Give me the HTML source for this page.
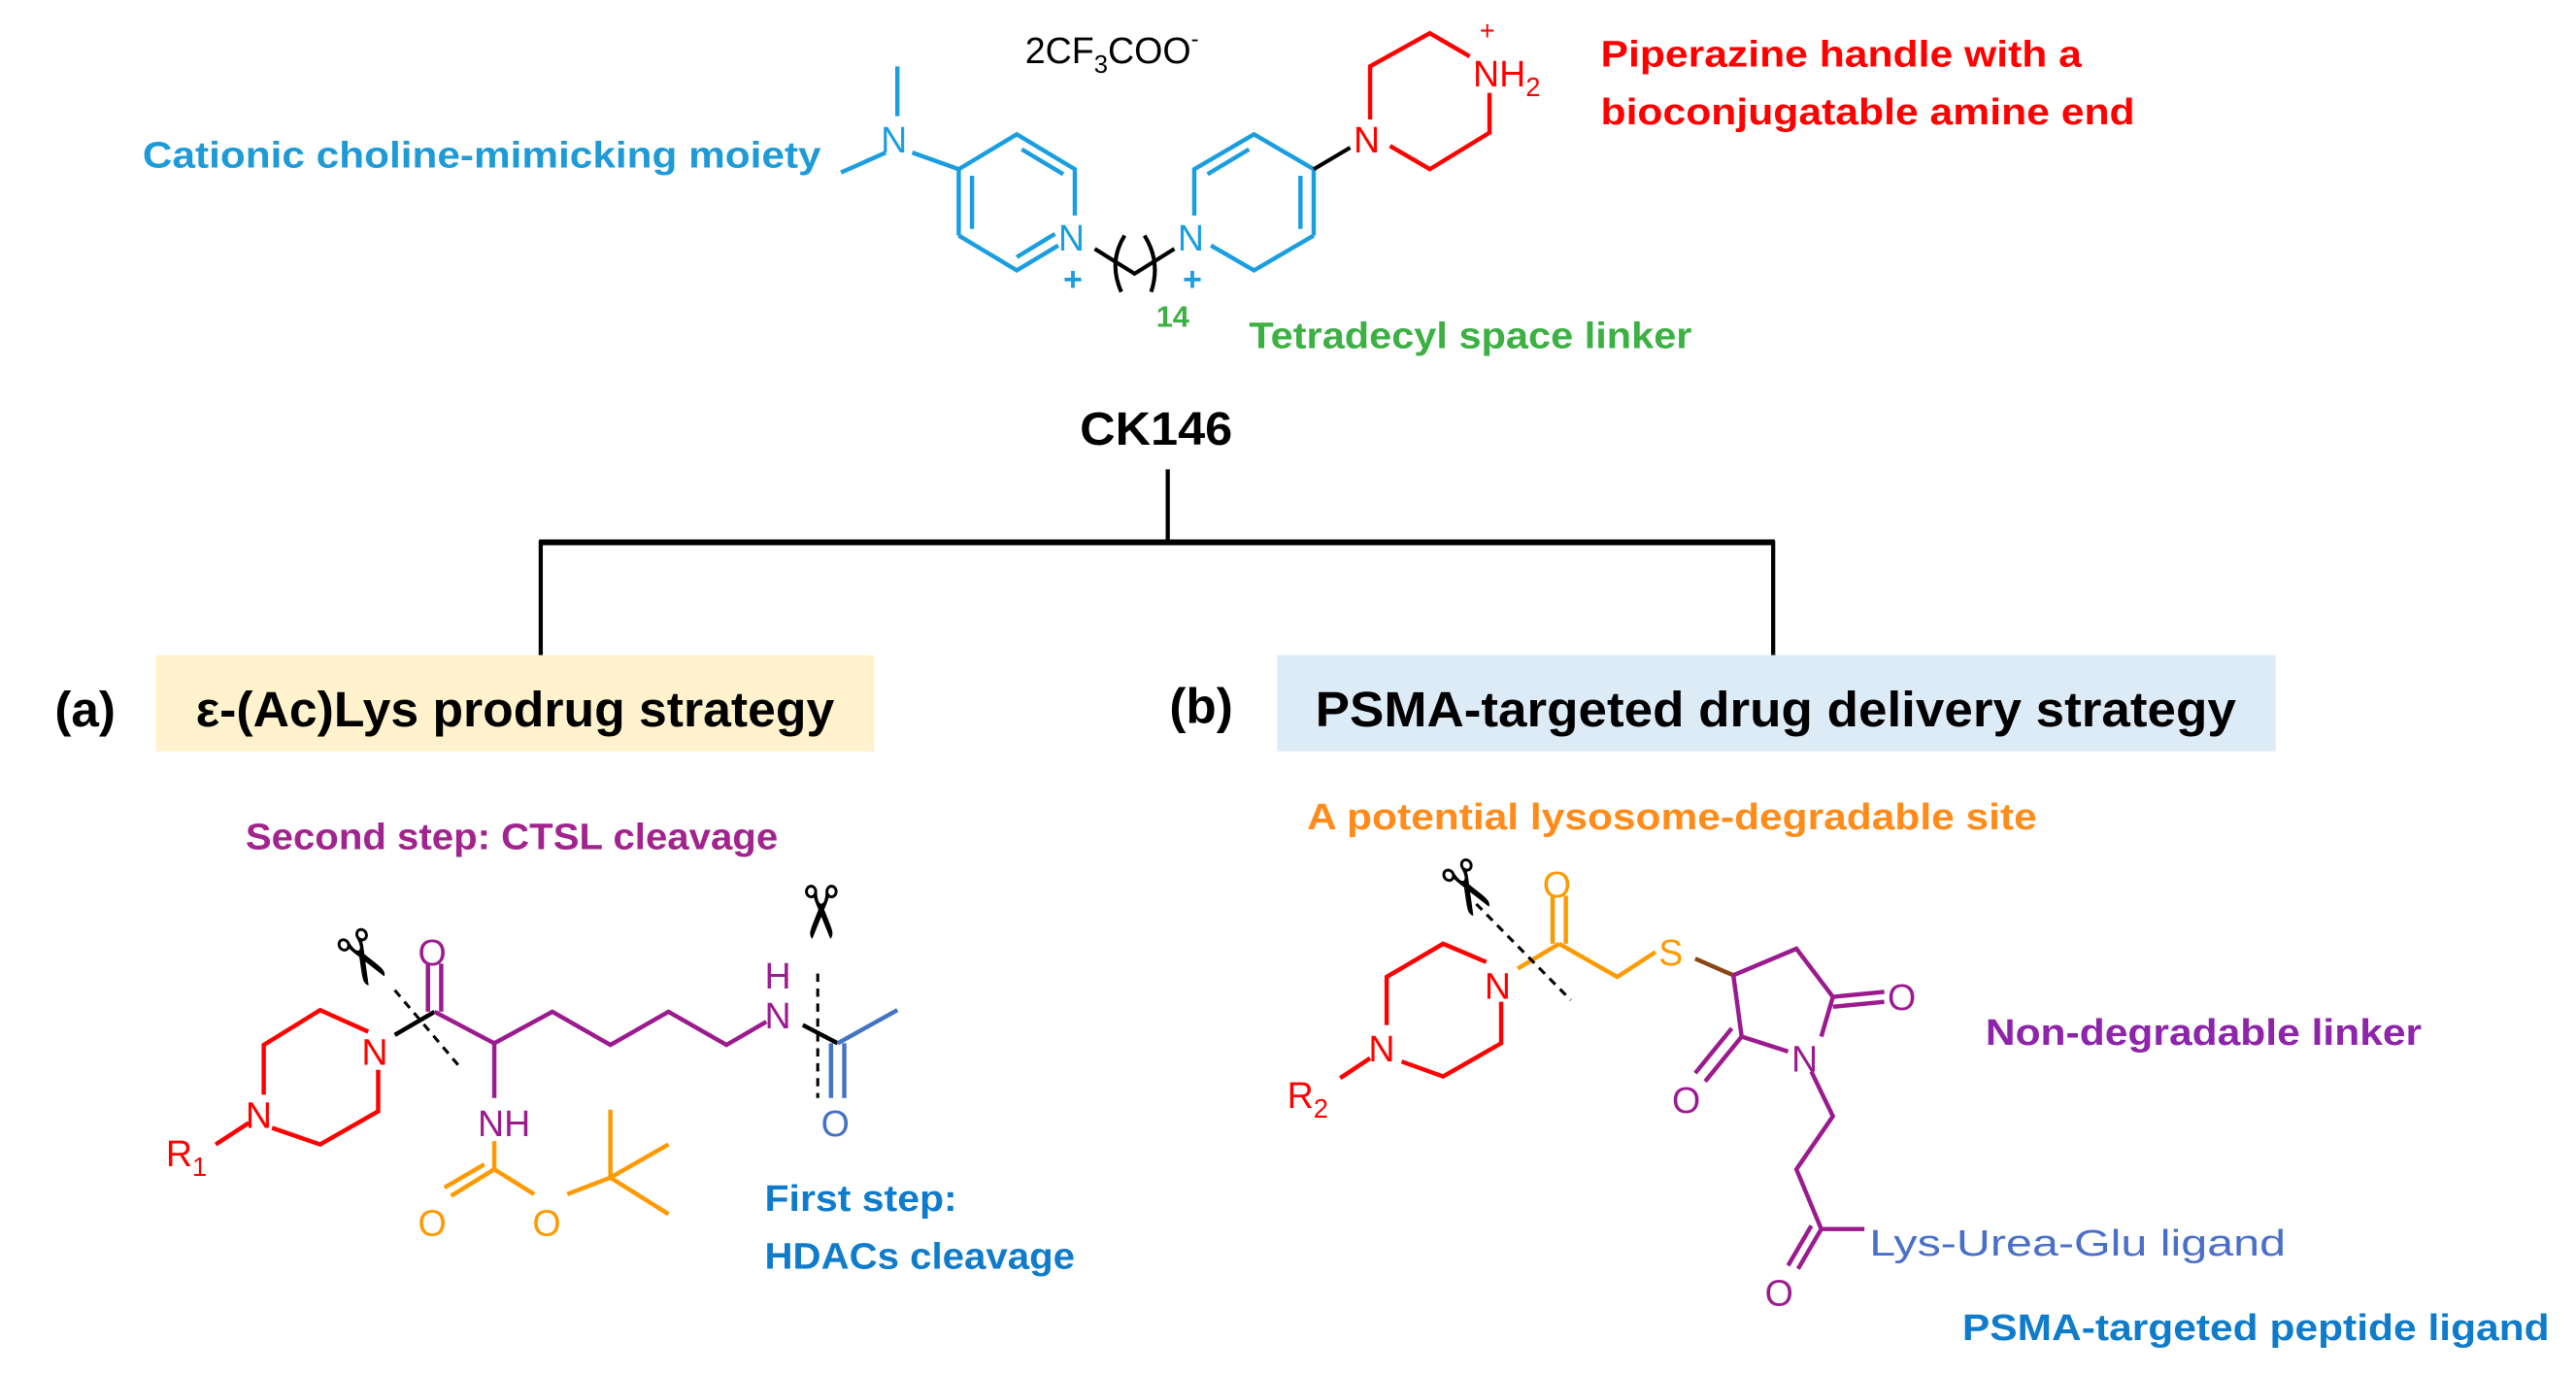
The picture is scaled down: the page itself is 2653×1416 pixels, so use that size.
<!DOCTYPE html>
<html><head><meta charset="utf-8"><style>
html,body{margin:0;padding:0;background:#fff;}
svg{display:block;}
text{font-family:"Liberation Sans",Arial,sans-serif;}
.b{font-weight:bold;}
</style></head><body>
<svg width="2653" height="1416" viewBox="0 0 1553 829" preserveAspectRatio="none" xmlns="http://www.w3.org/2000/svg">
<rect width="1553" height="829" fill="#fff"/>
<text x="618" y="38" font-size="22" fill="#000">2CF<tspan font-size="15" dy="6">3</tspan><tspan dy="-6">COO</tspan><tspan font-size="14" dy="-10">-</tspan></text>
<text class="b" x="86" y="101" font-size="22" fill="#1e9bd7" textLength="409" lengthAdjust="spacingAndGlyphs">Cationic choline-mimicking moiety</text>
<g stroke="#1a9ee0" stroke-width="2.6" fill="none">
<line x1="541" y1="40" x2="541" y2="70"/>
<line x1="534" y1="92" x2="507" y2="104"/>
<line x1="550" y1="92" x2="578" y2="102"/>
<polyline points="578,102 613,81 648,102 648,130"/>
<line x1="578" y1="102" x2="578" y2="142"/>
<polyline points="578,142 613,163 638,148"/>
<line x1="586" y1="106" x2="586" y2="138"/>
<line x1="616" y1="90" x2="641" y2="105"/>
<line x1="613" y1="155" x2="636" y2="141"/>
<polyline points="792,102 756,81 720,102 720,130"/>
<line x1="792" y1="102" x2="792" y2="142"/>
<polyline points="792,142 756,163 730,148"/>
<line x1="753" y1="90" x2="728" y2="105"/>
<line x1="784" y1="106" x2="784" y2="138"/>
</g>
<text x="638" y="151" font-size="22" fill="#1a9ee0">N</text>
<text x="710" y="151" font-size="22" fill="#1a9ee0">N</text>
<text x="531" y="92" font-size="22" fill="#1a9ee0">N</text>
<text x="641" y="175" font-size="20" fill="#1a9ee0" class="b">+</text>
<text x="713" y="175" font-size="20" fill="#1a9ee0" class="b">+</text>
<g stroke="#000" stroke-width="2.4" fill="none">
<polyline points="660,150 684,165 708,150"/>
<path d="M678,142 Q668,158 676,176"/>
<path d="M690,142 Q700,158 694,176"/>
<line x1="792" y1="102" x2="814" y2="89"/>
</g>
<text class="b" x="697" y="197" font-size="18" fill="#3cb043">14</text>
<g stroke="#ff0000" stroke-width="2.6" fill="none">
<polyline points="826,72 826,40 862,20 886,34"/>
<polyline points="898,56 898,80 862,102 838,88"/>
</g>
<text x="816" y="92" font-size="22" fill="#ff0000">N</text>
<text x="888" y="52" font-size="22" fill="#ff0000">NH<tspan font-size="16" dy="6">2</tspan></text>
<text x="892" y="24" font-size="16" fill="#ff0000">+</text>
<text class="b" x="965" y="40" font-size="22" fill="#ff0000" textLength="290" lengthAdjust="spacingAndGlyphs">Piperazine handle with a</text>
<text class="b" x="965" y="75" font-size="22" fill="#ff0000" textLength="322" lengthAdjust="spacingAndGlyphs">bioconjugatable amine end</text>
<text class="b" x="753" y="210" font-size="22" fill="#3cb043" textLength="267" lengthAdjust="spacingAndGlyphs">Tetradecyl space linker</text>
<text class="b" x="697" y="268" font-size="28" fill="#000" text-anchor="middle" textLength="92" lengthAdjust="spacingAndGlyphs">CK146</text>
<g stroke="#000" stroke-width="2.5">
<line x1="704" y1="283" x2="704" y2="327"/>
<line x1="325" y1="327" x2="1070" y2="327" stroke-width="3.5"/>
<line x1="326" y1="326" x2="326" y2="395"/>
<line x1="1069" y1="326" x2="1069" y2="395"/>
</g>
<rect x="94" y="395" width="433" height="58" fill="#fff2cc"/>
<rect x="770" y="395" width="602" height="58" fill="#ddebf7"/>
<text class="b" x="33" y="438" font-size="30" fill="#000">(a)</text>
<text class="b" x="705" y="436" font-size="30" fill="#000">(b)</text>
<text class="b" x="118" y="438" font-size="30" fill="#000" textLength="385" lengthAdjust="spacingAndGlyphs">ε-(Ac)Lys prodrug strategy</text>
<text class="b" x="793" y="438" font-size="30" fill="#000" textLength="555" lengthAdjust="spacingAndGlyphs">PSMA-targeted drug delivery strategy</text>
<text class="b" x="148" y="512" font-size="22" fill="#a3238e" textLength="321" lengthAdjust="spacingAndGlyphs">Second step: CTSL cleavage</text>
<g stroke="#ff0000" stroke-width="2.6" fill="none">
<polyline points="222,622 193,609 159,630 159,660"/>
<polyline points="164,680 193,690 228,670 228,645"/>
<line x1="150" y1="677" x2="130" y2="690"/>
</g>
<text x="218" y="642" font-size="22" fill="#ff0000">N</text>
<text x="148" y="680" font-size="22" fill="#ff0000">N</text>
<text x="100" y="703" font-size="22" fill="#ff0000">R<tspan font-size="16" dy="6">1</tspan></text>
<g stroke="#000" stroke-width="2.6" fill="none">
<line x1="238" y1="624" x2="262" y2="610"/>
<line x1="484" y1="618" x2="505" y2="629"/>
</g>
<g stroke="#9b1b8f" stroke-width="2.6" fill="none">
<line x1="258" y1="581" x2="258" y2="610"/>
<line x1="266" y1="581" x2="266" y2="610"/>
<polyline points="262,610 298,629 333,610 368,630 403,610 438,630 462,616"/>
<line x1="298" y1="629" x2="298" y2="662"/>
</g>
<text x="252" y="582" font-size="22" fill="#9b1b8f">O</text>
<text x="288" y="685" font-size="22" fill="#9b1b8f">NH</text>
<text x="461" y="596" font-size="22" fill="#9b1b8f">H</text>
<text x="461" y="620" font-size="22" fill="#9b1b8f">N</text>
<g stroke="#4472c4" stroke-width="2.6" fill="none">
<line x1="505" y1="629" x2="541" y2="609"/>
<line x1="501" y1="629" x2="501" y2="662"/>
<line x1="509" y1="629" x2="509" y2="662"/>
</g>
<text x="495" y="685" font-size="22" fill="#4472c4">O</text>
<g stroke="#000" stroke-width="1.8" stroke-dasharray="5,4" fill="none">
<line x1="238" y1="597" x2="277" y2="643"/>
<line x1="493" y1="587" x2="493" y2="662"/>
</g>
<text x="218" y="593" font-size="44" fill="#000" text-anchor="middle" transform="rotate(60 218 578)">✂</text>
<text x="494" y="565" font-size="44" fill="#000" text-anchor="middle" transform="rotate(90 494 550)">✂</text>
<g stroke="#ff9900" stroke-width="2.6" fill="none">
<line x1="298" y1="688" x2="298" y2="705"/>
<line x1="298" y1="705" x2="272" y2="721"/>
<line x1="292" y1="702" x2="268" y2="716"/>
<line x1="298" y1="705" x2="322" y2="720"/>
<line x1="342" y1="720" x2="368" y2="710"/>
<line x1="368" y1="710" x2="368" y2="669"/>
<line x1="368" y1="710" x2="403" y2="690"/>
<line x1="368" y1="710" x2="403" y2="732"/>
</g>
<text x="252" y="745" font-size="22" fill="#ff9900">O</text>
<text x="321" y="745" font-size="22" fill="#ff9900">O</text>
<text class="b" x="461" y="730" font-size="22" fill="#0f7ccb" textLength="116" lengthAdjust="spacingAndGlyphs">First step:</text>
<text class="b" x="461" y="765" font-size="22" fill="#0f7ccb" textLength="187" lengthAdjust="spacingAndGlyphs">HDACs cleavage</text>
<text class="b" x="788" y="500" font-size="22" fill="#ff8c1a" textLength="440" lengthAdjust="spacingAndGlyphs">A potential lysosome-degradable site</text>
<g stroke="#ff0000" stroke-width="2.6" fill="none">
<polyline points="896,580 870,569 836,589 836,618"/>
<polyline points="845,640 870,649 905,629 905,604"/>
<line x1="826" y1="638" x2="808" y2="650"/>
</g>
<text x="895" y="602" font-size="22" fill="#ff0000">N</text>
<text x="825" y="640" font-size="22" fill="#ff0000">N</text>
<text x="776" y="668" font-size="22" fill="#ff0000">R<tspan font-size="16" dy="6">2</tspan></text>
<g stroke="#ff9900" stroke-width="2.6" fill="none">
<line x1="915" y1="584" x2="940" y2="569"/>
<line x1="936" y1="540" x2="936" y2="569"/>
<line x1="944" y1="540" x2="944" y2="569"/>
<polyline points="940,569 975,589 998,574"/>
</g>
<text x="930" y="541" font-size="22" fill="#ff9900">O</text>
<text x="1000" y="582" font-size="22" fill="#ff9900">S</text>
<line x1="1022" y1="578" x2="1045" y2="588" stroke="#8b4513" stroke-width="2.6"/>
<g stroke="#9b1b8f" stroke-width="2.6" fill="none">
<polyline points="1045,588 1083,572 1105,601 1098,625"/>
<line x1="1105" y1="601" x2="1136" y2="598"/>
<line x1="1105" y1="607" x2="1136" y2="604"/>
<line x1="1045" y1="588" x2="1050" y2="625"/>
<line x1="1050" y1="625" x2="1078" y2="634"/>
<line x1="1050" y1="625" x2="1028" y2="652"/>
<line x1="1044" y1="620" x2="1022" y2="647"/>
<polyline points="1092,646 1105,673 1083,705 1098,741 1124,741"/>
<line x1="1098" y1="741" x2="1084" y2="765"/>
<line x1="1092" y1="739" x2="1078" y2="763"/>
</g>
<text x="1138" y="609" font-size="22" fill="#9b1b8f">O</text>
<text x="1080" y="646" font-size="22" fill="#9b1b8f">N</text>
<text x="1008" y="671" font-size="22" fill="#9b1b8f">O</text>
<text x="1064" y="787" font-size="22" fill="#9b1b8f">O</text>
<g stroke="#000" stroke-width="1.8" stroke-dasharray="5,4" fill="none">
<line x1="890" y1="545" x2="947" y2="603"/>
</g>
<text x="884" y="551" font-size="44" fill="#000" text-anchor="middle" transform="rotate(60 884 536)">✂</text>
<text x="1127" y="757" font-size="22" fill="#4a6fc8" textLength="251" lengthAdjust="spacingAndGlyphs">Lys-Urea-Glu ligand</text>
<text class="b" x="1197" y="630" font-size="22" fill="#8e24aa" textLength="263" lengthAdjust="spacingAndGlyphs">Non-degradable linker</text>
<text class="b" x="1183" y="808" font-size="22" fill="#0f7ccb" textLength="354" lengthAdjust="spacingAndGlyphs">PSMA-targeted peptide ligand</text>
</svg>
</body></html>
